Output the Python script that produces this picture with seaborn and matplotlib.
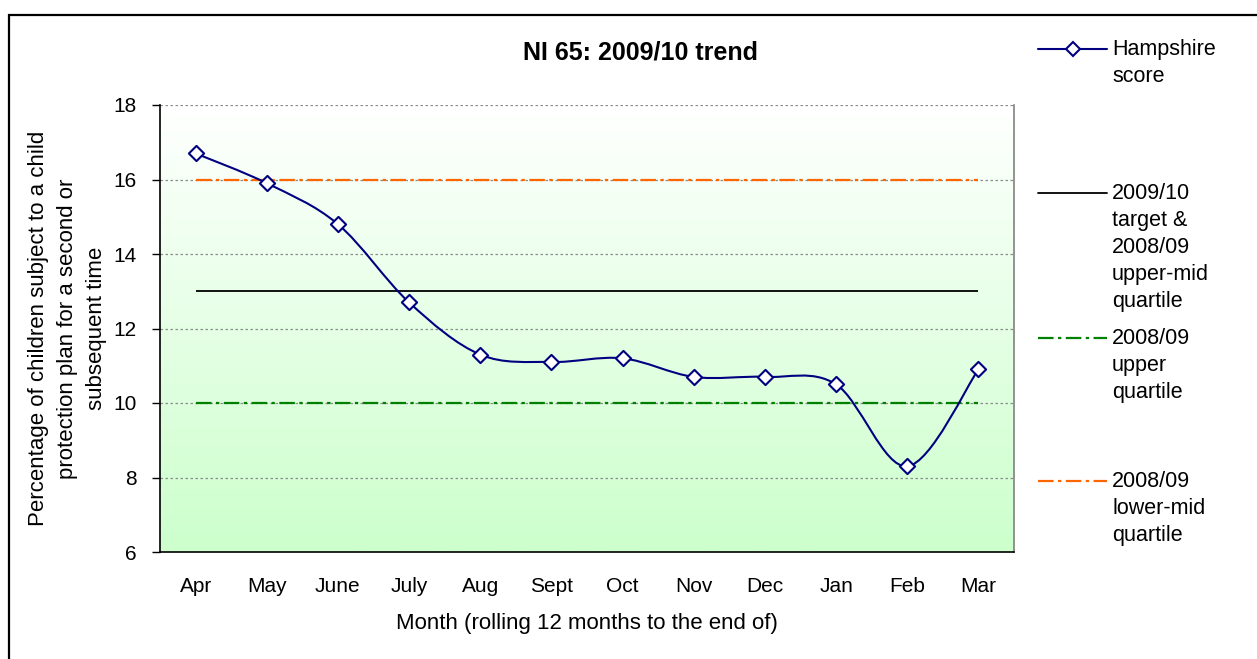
import numpy as np
import pandas as pd
import seaborn as sns
import matplotlib.pyplot as plt
from matplotlib.path import Path
from matplotlib.patches import PathPatch, Rectangle
from matplotlib.lines import Line2D

months = ["Apr", "May", "June", "July", "Aug", "Sept", "Oct", "Nov", "Dec", "Jan", "Feb", "Mar"]
hampshire = [16.7, 15.9, 14.8, 12.7, 11.3, 11.1, 11.2, 10.7, 10.7, 10.5, 8.3, 10.9]
target = 13.0           # 2009/10 target & 2008/09 upper-mid quartile
upper_quartile = 10.0   # 2008/09 upper quartile
lower_mid_quartile = 16.0  # 2008/09 lower-mid quartile

legend_labels = [
    "Hampshire\nscore",
    "2009/10\ntarget &\n2008/09\nupper-mid\nquartile",
    "2008/09\nupper\nquartile",
    "2008/09\nlower-mid\nquartile",
]

navy = "#000080"
orange = "#FF6600"
green = "#008000"
dashdot = (0, (7, 2, 1.5, 2))

sns.set_style("white")
plt.rcParams["font.family"] = ["Liberation Sans", "DejaVu Sans"]
plt.rcParams["text.color"] = "black"
plt.rcParams["axes.labelcolor"] = "black"
plt.rcParams["xtick.color"] = "black"
plt.rcParams["ytick.color"] = "black"

df = pd.DataFrame({"pos": np.arange(len(months)), "month": months, "score": hampshire})

fig = plt.figure(figsize=(12.57, 6.59), dpi=100)
ax = fig.add_axes([160 / 1257, 1 - 552 / 659, 854 / 1257, 447 / 659])

# gradient background, white at the top to pale green at the bottom
grad = np.linspace(0, 1, 256).reshape(-1, 1)
top = np.array([1.0, 1.0, 1.0])
bottom = np.array([204, 255, 204]) / 255
img = top + (bottom - top) * grad[..., None]
ax.imshow(img, extent=[0, 1, 0, 1], transform=ax.transAxes, aspect="auto", zorder=0)

ax.set_xlim(-0.5, len(months) - 0.5)
ax.set_ylim(6, 18)

# horizontal gridlines
for v in range(8, 19, 2):
    ax.axhline(v, color="#8c8c8c", lw=0.9, ls=(0, (2, 2)), zorder=1)

# reference lines
last = len(months) - 1
ax.hlines(lower_mid_quartile, 0, last, color=orange, lw=1.6, ls=dashdot, zorder=2)
ax.hlines(upper_quartile, 0, last, color=green, lw=1.6, ls=dashdot, zorder=2)
ax.hlines(target, 0, last, color="black", lw=1.3, zorder=2)

# smoothed Hampshire line (Excel-style spline through the data points)
pts = df[["pos", "score"]].to_numpy(dtype=float)
ext = np.vstack([pts[0], pts, pts[-1]])
verts = [pts[0]]
codes = [Path.MOVETO]
for i in range(len(pts) - 1):
    p0, p1, p2, p3 = ext[i], ext[i + 1], ext[i + 2], ext[i + 3]
    verts += [p1 + (p2 - p0) / 6, p2 - (p3 - p1) / 6, p2]
    codes += [Path.CURVE4] * 3
ax.add_patch(PathPatch(Path(verts, codes), fill=False, ec=navy, lw=1.5, zorder=3))

sns.scatterplot(data=df, x="pos", y="score", marker="D", s=60, color="white",
                edgecolor=navy, linewidth=1.5, zorder=4, ax=ax, legend=False)

# axes styling
ax.set_xticks(np.arange(len(months)))
ax.set_xticklabels(months)
ax.set_xticks(np.arange(-0.5, len(months)), minor=True)
ax.tick_params(axis="x", which="major", length=0, pad=18, labelsize=15)
ax.tick_params(axis="x", which="minor", length=6, width=1, color="black", direction="out")
ax.set_yticks(range(6, 19, 2))
ax.tick_params(axis="y", length=6, width=1, color="black", direction="out", pad=11, labelsize=15)
ax.tick_params(axis="both", left=True, bottom=True)
for s in ["left", "bottom"]:
    ax.spines[s].set_color("black")
    ax.spines[s].set_linewidth(1.2)
ax.spines["top"].set_visible(False)
ax.spines["right"].set_color("#808080")
ax.spines["right"].set_linewidth(1.2)

ax.set_xlabel("Month (rolling 12 months to the end of)", fontsize=16, labelpad=12)
ax.set_ylabel("Percentage of children subject to a child\nprotection plan for a second or\nsubsequent time",
              fontsize=16, labelpad=4, linespacing=1.5)
ax.set_title("NI 65: 2009/10 trend", fontsize=18, fontweight="bold", x=0.563, pad=33)

# legend, drawn Excel-style with the key beside the first line of each label
keys = [
    dict(color=navy, lw=1.5, ls="-"),
    dict(color="black", lw=1.3, ls="-"),
    dict(color=green, lw=1.6, ls=dashdot),
    dict(color=orange, lw=1.6, ls=dashdot),
]
key_rows = [49, 193, 338, 481]
for i, (label, kw, row) in enumerate(zip(legend_labels, keys, key_rows)):
    yf = 1 - row / 659
    fig.add_artist(Line2D([1038 / 1257, 1107 / 1257], [yf, yf], **kw))
    if i == 0:
        fig.add_artist(Line2D([1073 / 1257], [yf], ls="none", marker="D", ms=7,
                              mfc="white", mec=navy, mew=1.5))
    fig.text(1112 / 1257, yf + 10 / 659, label, fontsize=15.5, va="top", ha="left", linespacing=1.38)

# chart border
fig.add_artist(Rectangle((9 / 1257, -0.2), 1.2, 1.2 - 15 / 659, transform=fig.transFigure,
                         fill=False, ec="black", lw=1.6))

fig.savefig("out.png", dpi=100)
